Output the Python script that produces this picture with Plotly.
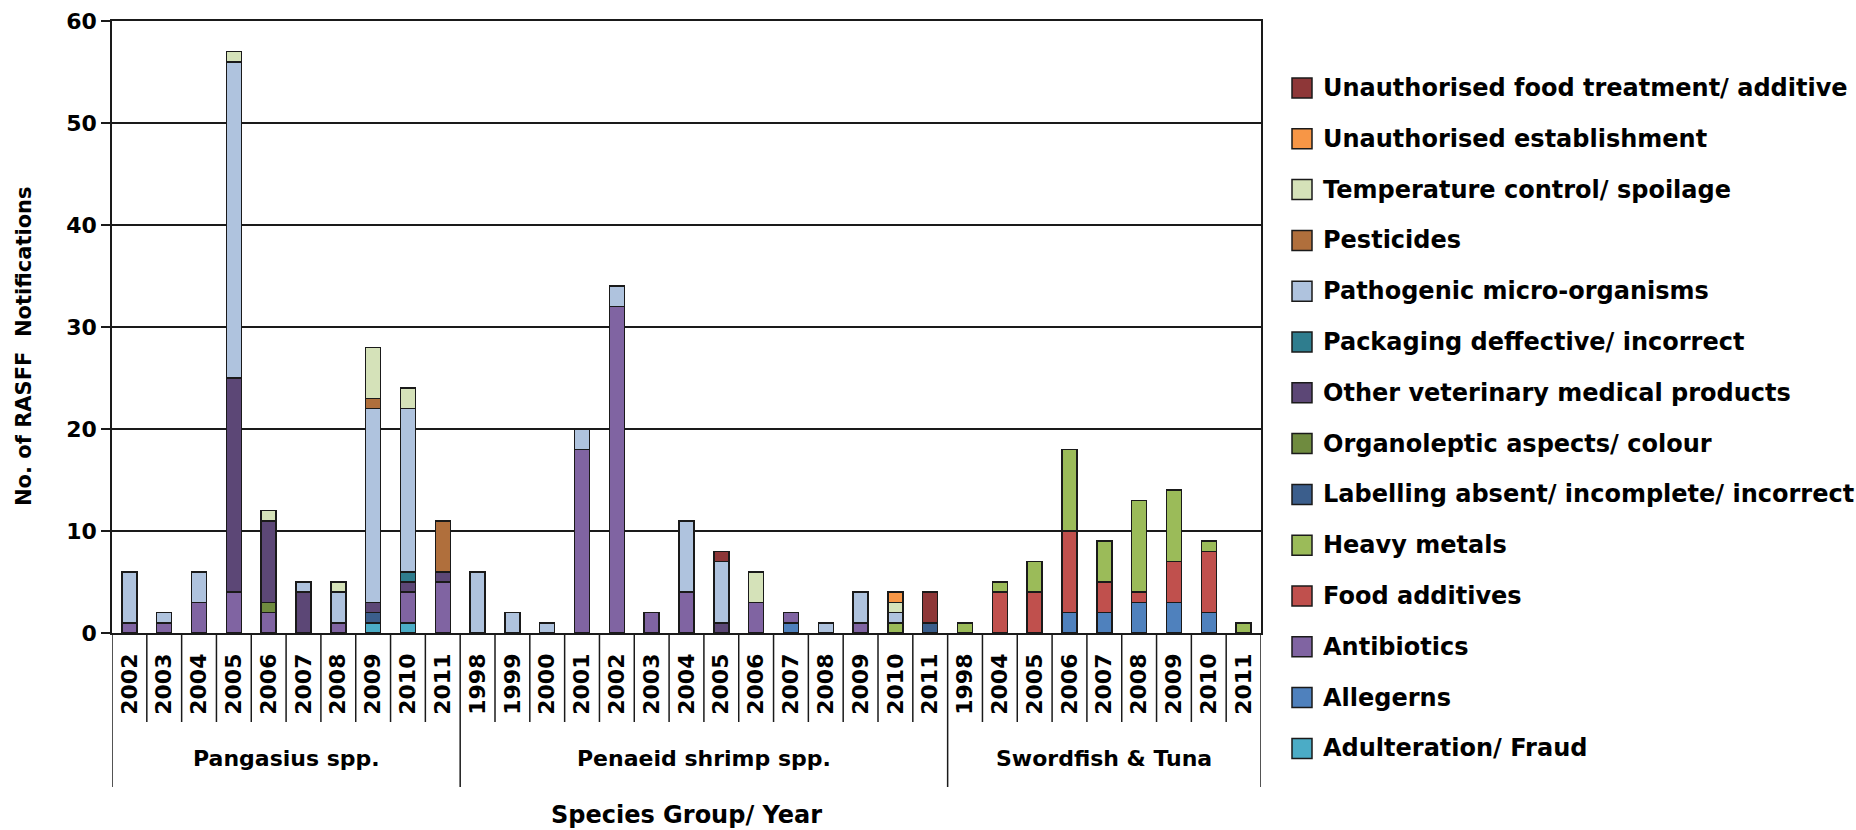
import plotly.graph_objects as go

# Species groups and the years shown under each group
groups = ["Pangasius spp.", "Penaeid shrimp spp.", "Swordfish & Tuna"]
pangasius_years = ["2002", "2003", "2004", "2005", "2006", "2007", "2008", "2009", "2010", "2011"]
shrimp_years = ["1998", "1999", "2000", "2001", "2002", "2003", "2004", "2005", "2006", "2007",
                "2008", "2009", "2010", "2011"]
swordfish_years = ["1998", "2004", "2005", "2006", "2007", "2008", "2009", "2010", "2011"]

# Hazard categories (stacking order, bottom to top) and their fills
categories = [
    "Adulteration/ Fraud",
    "Allegerns",
    "Antibiotics",
    "Food additives",
    "Heavy metals",
    "Labelling absent/ incomplete/ incorrect",
    "Organoleptic aspects/ colour",
    "Other veterinary medical products",
    "Packaging deffective/ incorrect",
    "Pathogenic micro-organisms",
    "Pesticides",
    "Temperature control/ spoilage",
    "Unauthorised establishment",
    "Unauthorised food treatment/ additive",
]
colors = [
    "#4BACC6", "#4F81BD", "#8064A2", "#C0504D", "#9BBB59", "#3B5E8C", "#6F8B3F",
    "#5C4776", "#2F7D8E", "#AFC3DE", "#B06F3C", "#D5E2B9", "#F79646", "#8E3738",
]

# RASFF notification counts: Pangasius (10 years) + Penaeid shrimp (14) + Swordfish & Tuna (9)
adulteration = [0, 0, 0, 0, 0, 0, 0, 1, 1, 0] + \
               [0, 0, 0, 0, 0, 0, 0, 0, 0, 0, 0, 0, 0, 0] + \
               [0, 0, 0, 0, 0, 0, 0, 0, 0]
allergens = [0, 0, 0, 0, 0, 0, 0, 0, 0, 0] + \
            [0, 0, 0, 0, 0, 0, 0, 0, 0, 1, 0, 0, 0, 0] + \
            [0, 0, 0, 2, 2, 3, 3, 2, 0]
antibiotics = [1, 1, 3, 4, 2, 0, 1, 0, 3, 5] + \
              [0, 0, 0, 18, 32, 2, 4, 0, 3, 1, 0, 1, 0, 0] + \
              [0, 0, 0, 0, 0, 0, 0, 0, 0]
food_additives = [0, 0, 0, 0, 0, 0, 0, 0, 0, 0] + \
                 [0, 0, 0, 0, 0, 0, 0, 0, 0, 0, 0, 0, 0, 0] + \
                 [0, 4, 4, 8, 3, 1, 4, 6, 0]
heavy_metals = [0, 0, 0, 0, 0, 0, 0, 0, 0, 0] + \
               [0, 0, 0, 0, 0, 0, 0, 0, 0, 0, 0, 0, 1, 0] + \
               [1, 1, 3, 8, 4, 9, 7, 1, 1]
labelling = [0, 0, 0, 0, 0, 0, 0, 1, 0, 0] + \
            [0, 0, 0, 0, 0, 0, 0, 0, 0, 0, 0, 0, 0, 1] + \
            [0, 0, 0, 0, 0, 0, 0, 0, 0]
organoleptic = [0, 0, 0, 0, 1, 0, 0, 0, 0, 0] + \
               [0, 0, 0, 0, 0, 0, 0, 0, 0, 0, 0, 0, 0, 0] + \
               [0, 0, 0, 0, 0, 0, 0, 0, 0]
other_veterinary = [0, 0, 0, 21, 8, 4, 0, 1, 1, 1] + \
                   [0, 0, 0, 0, 0, 0, 0, 1, 0, 0, 0, 0, 0, 0] + \
                   [0, 0, 0, 0, 0, 0, 0, 0, 0]
packaging = [0, 0, 0, 0, 0, 0, 0, 0, 1, 0] + \
            [0, 0, 0, 0, 0, 0, 0, 0, 0, 0, 0, 0, 0, 0] + \
            [0, 0, 0, 0, 0, 0, 0, 0, 0]
pathogenic = [5, 1, 3, 31, 0, 1, 3, 19, 16, 0] + \
             [6, 2, 1, 2, 2, 0, 7, 6, 0, 0, 1, 3, 1, 0] + \
             [0, 0, 0, 0, 0, 0, 0, 0, 0]
pesticides = [0, 0, 0, 0, 0, 0, 0, 1, 0, 5] + \
             [0, 0, 0, 0, 0, 0, 0, 0, 0, 0, 0, 0, 0, 0] + \
             [0, 0, 0, 0, 0, 0, 0, 0, 0]
temperature = [0, 0, 0, 1, 1, 0, 1, 5, 2, 0] + \
              [0, 0, 0, 0, 0, 0, 0, 0, 3, 0, 0, 0, 1, 0] + \
              [0, 0, 0, 0, 0, 0, 0, 0, 0]
unauthorised_establishment = [0, 0, 0, 0, 0, 0, 0, 0, 0, 0] + \
                             [0, 0, 0, 0, 0, 0, 0, 0, 0, 0, 0, 0, 1, 0] + \
                             [0, 0, 0, 0, 0, 0, 0, 0, 0]
unauthorised_treatment = [0, 0, 0, 0, 0, 0, 0, 0, 0, 0] + \
                         [0, 0, 0, 0, 0, 0, 0, 1, 0, 0, 0, 0, 0, 3] + \
                         [0, 0, 0, 0, 0, 0, 0, 0, 0]

series = [adulteration, allergens, antibiotics, food_additives, heavy_metals, labelling,
          organoleptic, other_veterinary, packaging, pathogenic, pesticides, temperature,
          unauthorised_establishment, unauthorised_treatment]

group_years = [pangasius_years, shrimp_years, swordfish_years]
years = [y for g in group_years for y in g]
xpos = list(range(len(years)))

FONT = "DejaVu Sans"
INK = "#1a1a1a"

# Plot-area geometry in pixels (used to place legend and separators in paper units)
W, H = 1856, 830
L, R, T, B = 112, 1261, 21, 633


def px_x(p):
    return (p - L) / (R - L)


def px_y(p):
    return (B - p) / (B - T)


fig = go.Figure()
for name, vals, col in zip(categories, series, colors):
    fig.add_trace(go.Bar(
        x=xpos,
        y=[v if v else None for v in vals],
        name=name,
        marker=dict(color=col, line=dict(color=INK, width=1.5)),
        showlegend=False,
        hovertemplate="%{y}<extra>" + name + "</extra>",
    ))

shapes = []
annotations = []

# Separators below the category axis: short ones between years, long ones between groups
boundaries = [0]
for g in group_years:
    boundaries.append(boundaries[-1] + len(g))
group_edges = set(boundaries)
for i in range(len(years) + 1):
    deep = i in group_edges
    shapes.append(dict(
        type="line", xref="x", yref="paper",
        x0=i - 0.5, x1=i - 0.5, y0=0, y1=px_y(787 if deep else 722),
        line=dict(color=INK, width=1.5),
    ))

# Group names centred under their years
for gname, start, end in zip(groups, boundaries[:-1], boundaries[1:]):
    annotations.append(dict(
        text=gname, xref="x", yref="paper", x=(start + end - 1) / 2, y=px_y(758),
        showarrow=False, xanchor="center", yanchor="middle",
        font=dict(family=FONT, size=22, color="black", weight="bold"),
    ))

# Y axis title
annotations.append(dict(
    text="No. of RASFF  Notifications", xref="paper", yref="paper",
    x=px_x(24), y=px_y(346), textangle=-90, showarrow=False,
    xanchor="center", yanchor="middle",
    font=dict(family=FONT, size=21, color="black", weight="bold"),
))

# Legend: top of the stack listed first
for k, idx in enumerate(reversed(range(len(categories)))):
    cy = 88 + k * 50.8
    shapes.append(dict(
        type="rect", xref="paper", yref="paper",
        x0=px_x(1292), x1=px_x(1312), y0=px_y(cy + 10), y1=px_y(cy - 10),
        fillcolor=colors[idx], line=dict(color=INK, width=1.5),
    ))
    annotations.append(dict(
        text=categories[idx], xref="paper", yref="paper",
        x=px_x(1321), y=px_y(cy), showarrow=False, xanchor="left", yanchor="middle",
        font=dict(family=FONT, size=24, color="black", weight="bold"),
    ))

fig.update_layout(
    width=W, height=H,
    margin=dict(l=L, r=W - R, t=T, b=H - B),
    barmode="stack",
    bargap=0.57,
    plot_bgcolor="white",
    paper_bgcolor="white",
    showlegend=False,
    shapes=shapes,
    annotations=annotations,
    font=dict(family=FONT, color="black"),
)

fig.update_xaxes(
    range=[-0.5, len(years) - 0.5],
    tickmode="array", tickvals=xpos, ticktext=years,
    tickangle=-90,
    tickfont=dict(family=FONT, size=22, color="black", weight="bold"),
    ticks="", ticklabelstandoff=10,
    showgrid=False, zeroline=False,
    showline=True, linecolor=INK, linewidth=1.5, mirror=True,
    title=dict(text="Species Group/ Year", standoff=92,
               font=dict(family=FONT, size=24, color="black", weight="bold")),
    automargin=False,
    fixedrange=True,
)

fig.update_yaxes(
    range=[0, 60], dtick=10,
    tickfont=dict(family=FONT, size=22, color="black", weight="bold"),
    ticks="outside", ticklen=9, tickwidth=1.5, tickcolor=INK,
    showgrid=True, gridcolor=INK, gridwidth=1.5,
    zeroline=False,
    showline=True, linecolor=INK, linewidth=1.5, mirror=True,
    automargin=False,
    fixedrange=True,
)

fig.write_html("out.html")
